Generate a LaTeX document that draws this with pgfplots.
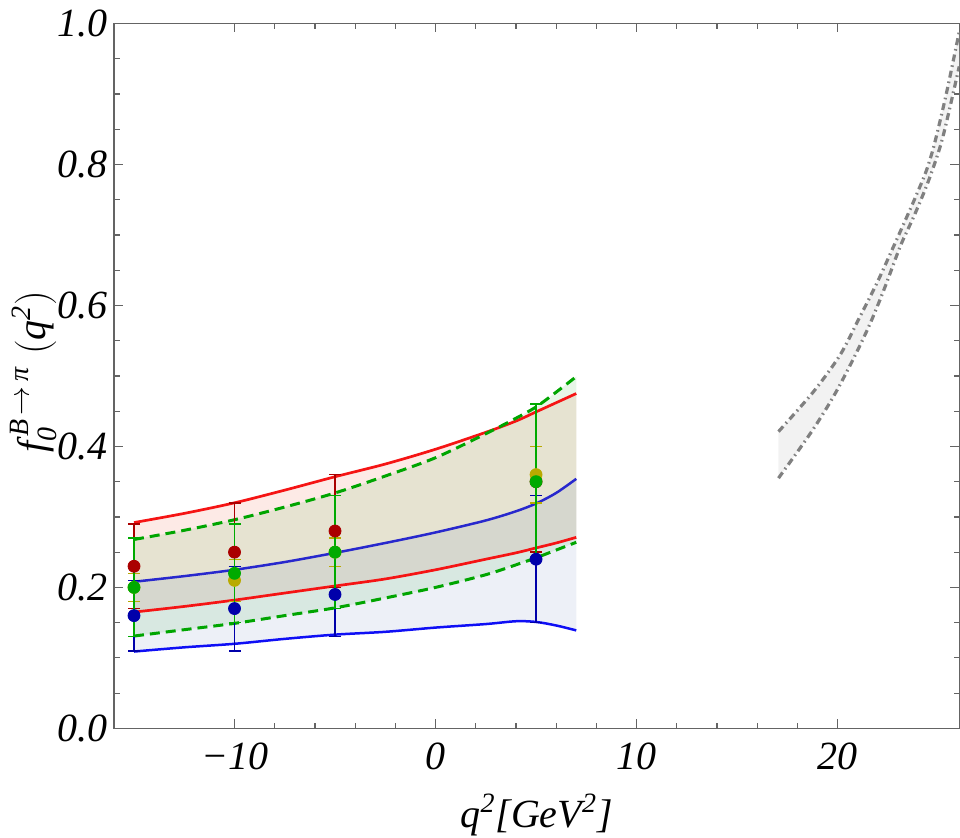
\documentclass[border=0pt]{standalone}
\usepackage{amsmath}
\usepackage{pgfplots}
\usepackage{pgfplotstable}
\pgfplotsset{compat=1.18}
\usepgfplotslibrary{fillbetween}
\usepackage{fontspec}
\setmainfont{Liberation Serif}

\definecolor{dred}{RGB}{170,0,0}
\definecolor{dyel}{RGB}{185,170,0}
\definecolor{dgreen}{RGB}{0,170,0}
\definecolor{dblue}{RGB}{0,0,170}
\definecolor{lred}{RGB}{245,20,20}
\definecolor{lblue}{RGB}{40,40,205}
\definecolor{lblue2}{RGB}{15,15,245}
\definecolor{lgreen}{RGB}{0,165,0}
\definecolor{axgray}{RGB}{100,100,100}
\definecolor{bandblue}{RGB}{90,120,180}
\definecolor{bandgreen}{RGB}{40,170,40}
\definecolor{bandred}{RGB}{240,60,30}

\pgfplotstableread{
x ru rl gu gl bu bl
-15 0.292 0.165 0.268 0.131 0.208 0.109
-12.5 0.305 0.173 0.281 0.140 0.216 0.115
-10 0.320 0.182 0.296 0.149 0.225 0.120
-7.5 0.338 0.192 0.314 0.160 0.236 0.127
-5 0.357 0.202 0.334 0.171 0.249 0.133
-2.5 0.375 0.212 0.358 0.185 0.263 0.137
0 0.396 0.225 0.384 0.200 0.278 0.143
2.5 0.420 0.240 0.418 0.218 0.295 0.148
4 0.436 0.249 0.440 0.232 0.308 0.152
5 0.449 0.256 0.456 0.242 0.319 0.151
6 0.462 0.263 0.477 0.253 0.334 0.146
7 0.475 0.271 0.499 0.264 0.354 0.139
}\curves

\pgfplotstableread{
x y
17.06 0.421
18.81 0.478
20.13 0.530
21.04 0.580
21.96 0.632
22.79 0.684
23.45 0.726
23.85 0.752
24.40 0.790
24.78 0.825
25.19 0.873
25.52 0.915
26.05 0.988
}\grayup

\pgfplotstableread{
x y
17.06 0.355
18.66 0.419
19.80 0.471
20.80 0.525
21.63 0.575
22.37 0.627
23.12 0.684
23.82 0.728
24.50 0.775
25.10 0.825
25.50 0.870
26.05 0.939
}\graylo

\pgfplotstableread{
x y ep em
-15 0.23 0.06 0.06
-10 0.25 0.07 0.07
-5 0.28 0.08 0.08
5 0.35 0.11 0.10
}\ptred
\pgfplotstableread{
x y ep em
-15 0.20 0.02 0.02
-10 0.21 0.03 0.03
-5 0.25 0.02 0.02
5 0.36 0.04 0.04
}\ptyel
\pgfplotstableread{
x y ep em
-15 0.20 0.07 0.07
-10 0.22 0.07 0.07
-5 0.25 0.08 0.08
5 0.35 0.11 0.11
}\ptgreen
\pgfplotstableread{
x y ep em
-15 0.16 0.05 0.05
-10 0.17 0.06 0.06
-5 0.19 0.06 0.06
5 0.24 0.09 0.09
}\ptblue

\newcommand{\bigf}{\fontsize{20}{24}\selectfont}

\pgfplotsset{
  errpts/.style={only marks, mark=*, mark size=2.6pt, color=#1,
    mark options={fill=#1, draw=#1, line width=0.7pt},
    error bars/.cd, y dir=both, y explicit,
    error mark=-,
    error bar style={line width=0.7pt, color=#1},
    error mark options={rotate=90, line width=0.7pt, mark size=3pt, draw=#1}},
  pts/.style={only marks, mark=*, mark size=3pt, color=#1,
    mark options={fill=#1, draw=none}},
}

\begin{document}
\begin{tikzpicture}
\begin{axis}[
  scale only axis,
  width=423pt, height=352.75pt,
  xmin=-16, xmax=26.05, ymin=0, ymax=1,
  xtick={-10,0,10,20},
  xticklabels={\textit{−10},\textit{0},\textit{10},\textit{20}},
  ytick={0,0.2,0.4,0.6,0.8,1.0},
  yticklabels={\textit{0.0},\textit{0.2},\textit{0.4},\textit{0.6},\textit{0.8},\textit{1.0}},
  minor x tick num=4,
  minor y tick num=3,
  tick align=inside,
  tick pos=both,
  major tick length=4.5pt,
  minor tick length=2.8pt,
  axis line style={axgray, line width=0.7pt},
  every tick/.style={axgray, line width=0.6pt},
  every tick label/.append style={font=\bigf, text=black},
  xticklabel style={anchor=base, yshift=-20.5pt},
  yticklabel style={xshift=0.5pt},
  xlabel={\bigf\itshape q\textsuperscript{2}[GeV\textsuperscript{2}]},
  ylabel={\bigf $\textit{f}_{\textit{0}}^{\,\textit{B}\,\to\,\textit{π}}\;(\textit{q}^{\textit{2}})$},
  xlabel style={at={(rel axis cs:0.5,0)}, anchor=base, yshift=-49.5pt, inner sep=0pt},
  ylabel style={at={(rel axis cs:0,0.506)}, anchor=base, yshift=34pt, inner sep=0pt},
  clip=true,
]
% invisible named paths
\addplot[draw=none, smooth, name path=ru] table[x=x,y=ru]{\curves};
\addplot[draw=none, smooth, name path=rl] table[x=x,y=rl]{\curves};
\addplot[draw=none, smooth, name path=gu] table[x=x,y=gu]{\curves};
\addplot[draw=none, smooth, name path=gl] table[x=x,y=gl]{\curves};
\addplot[draw=none, smooth, name path=bu] table[x=x,y=bu]{\curves};
\addplot[draw=none, smooth, name path=bl] table[x=x,y=bl]{\curves};
\addplot[draw=none, smooth, name path=hu] table[x=x,y=y]{\grayup};
\addplot[draw=none, smooth, name path=hl] table[x=x,y=y]{\graylo};
% bands
\addplot[fill=bandred, fill opacity=0.11, draw=none] fill between[of=ru and rl];
\addplot[fill=bandgreen, fill opacity=0.11, draw=none] fill between[of=gu and gl];
\addplot[fill=bandblue, fill opacity=0.11, draw=none] fill between[of=bu and bl];
\addplot[fill=black!5, draw=none] fill between[of=hu and hl];
% lines
\addplot[lred, line width=1.35pt, smooth] table[x=x,y=ru]{\curves};
\addplot[lred, line width=1.35pt, smooth] table[x=x,y=rl]{\curves};
\addplot[lgreen, line width=1.5pt, smooth, dash pattern=on 5pt off 3pt] table[x=x,y=gu]{\curves};
\addplot[lgreen, line width=1.5pt, smooth, dash pattern=on 5pt off 3pt] table[x=x,y=gl]{\curves};
\addplot[lblue, line width=1.25pt, smooth] table[x=x,y=bu]{\curves};
\addplot[lblue2, line width=1.25pt, smooth] table[x=x,y=bl]{\curves};
\addplot[black!50, line width=1.6pt, smooth, dash pattern=on 3.5pt off 2pt on 0.8pt off 2pt] table[x=x,y=y]{\grayup};
\addplot[black!50, line width=1.6pt, smooth, dash pattern=on 3.5pt off 2pt on 0.8pt off 2pt] table[x=x,y=y]{\graylo};
% error bars with points
\addplot[errpts=dred] table[x=x, y=y, y error plus=ep, y error minus=em]{\ptred};
\addplot[errpts=dyel] table[x=x, y=y, y error plus=ep, y error minus=em]{\ptyel};
\addplot[errpts=dblue] table[x=x, y=y, y error plus=ep, y error minus=em]{\ptblue};
\addplot[errpts=dgreen] table[x=x, y=y, y error plus=ep, y error minus=em]{\ptgreen};
% points on top
\addplot[pts=dred] table[x=x,y=y]{\ptred};
\addplot[pts=dyel] table[x=x,y=y]{\ptyel};
\addplot[pts=dgreen] table[x=x,y=y]{\ptgreen};
\addplot[pts=dblue] table[x=x,y=y]{\ptblue};
\coordinate (sw) at (rel axis cs:0,0);
\coordinate (ne) at (rel axis cs:1,1);
\end{axis}
\pgfresetboundingbox
\path ([shift={(-57pt,-54.5pt)}]sw) rectangle ([shift={(0.4pt,11.75pt)}]ne);
\end{tikzpicture}
\end{document}
